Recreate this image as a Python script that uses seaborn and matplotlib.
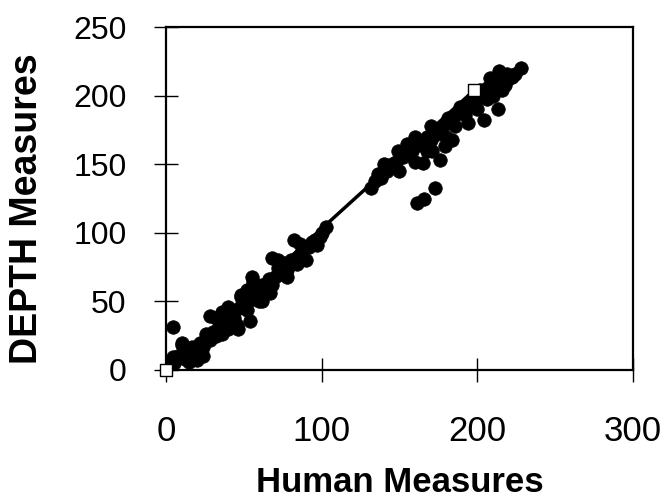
import numpy as np
import pandas as pd
import matplotlib
matplotlib.use("Agg")
import matplotlib.pyplot as plt
import seaborn as sns

# Human vs DEPTH measures
human = [4.5, 10, 28, 36, 48, 20, 28, 45.6, 54, 17, 4.5, 1,
         55, 68, 82, 103, 78, 84, 97, 99, 60, 67, 52, 48,
         5, 8, 12, 14, 18, 22, 24, 26, 30, 32, 35, 38, 40, 42, 44, 47,
         50, 52, 56, 58, 60, 62, 64, 66, 70, 72, 74, 76, 80, 86, 88, 92, 94, 100,
         10, 15, 24, 32, 36, 40, 46, 56, 62, 68, 72, 78, 86, 90, 96,
         160, 149, 141, 136, 132, 165, 176, 184, 173, 166, 161, 171, 179,
         228, 219, 208, 204, 216, 213, 204, 194, 189, 183, 176, 197, 200,
         134, 138, 142, 145, 148, 152, 155, 158, 162, 165, 168, 170, 174, 178,
         181, 186, 190, 194, 198, 202, 206, 210, 212, 215, 220, 222, 224,
         140, 150, 155, 160, 168, 170, 180, 186, 192, 200, 206, 210, 214, 218]
depth = [31, 20, 39, 42, 53, 7, 22, 33, 36, 17, 9.5, 4,
         68, 82, 95, 104, 73, 77, 91, 97, 50, 56, 58, 55,
         5, 10, 8, 14, 12, 20, 17, 26, 28, 25, 33, 36, 30, 40, 38, 45,
         48, 44, 52, 60, 57, 62, 60, 66, 68, 74, 70, 78, 80, 84, 88, 90, 93, 100,
         18, 6, 10, 38, 26, 46, 30, 64, 50, 62, 80, 68, 92, 80, 95,
         170, 160, 148, 143, 133, 151, 153, 168, 133, 125, 122, 160, 163,
         220, 216, 213, 200, 204, 190, 182, 180, 192, 181, 176, 193, 198,
         138, 140, 145, 150, 152, 155, 158, 160, 164, 166, 170, 168, 172, 178,
         184, 186, 190, 195, 200, 204, 206, 208, 212, 210, 212, 214, 216,
         150, 145, 165, 152, 160, 178, 170, 178, 186, 190, 198, 200, 218, 208]

# identity / reference series (open squares joined by a line)
ref_x = [0, 198]
ref_y = [0, 204]

df = pd.DataFrame({"Human": human, "DEPTH": depth})

sns.set_style("white")
plt.rcParams["font.family"] = ["Liberation Sans", "DejaVu Sans"]
plt.rcParams["text.color"] = "black"
plt.rcParams["axes.labelcolor"] = "black"
plt.rcParams["xtick.color"] = "black"
plt.rcParams["ytick.color"] = "black"

fig = plt.figure(figsize=(6.68, 5.04), dpi=100)
ax = fig.add_axes([0.2485, 0.266, 0.699, 0.68])

sns.scatterplot(data=df, x="Human", y="DEPTH", color="black", s=95,
                edgecolor="black", linewidth=0.5, ax=ax, zorder=2)
sns.lineplot(x=ref_x, y=ref_y, color="black", linewidth=2.5, ax=ax, zorder=3)
ax.scatter(ref_x, ref_y, marker="s", s=70, facecolor="white",
           edgecolor="black", linewidth=1.0, zorder=4, clip_on=False)

ax.set_xlim(0, 300)
ax.set_ylim(0, 250)
ax.set_xticks([0, 100, 200, 300])
ax.set_yticks([0, 50, 100, 150, 200, 250])

for sp in ax.spines.values():
    sp.set_visible(True)
    sp.set_color("black")
    sp.set_linewidth(1.6)

ax.tick_params(axis="both", direction="inout", length=17, width=1.0,
               color="black", labelcolor="black", bottom=True, left=True)
ax.tick_params(axis="x", labelsize=25, pad=24)
ax.tick_params(axis="y", labelsize=23, pad=20)

ax.set_xlabel("Human Measures", fontsize=25, fontweight="bold")
ax.set_ylabel("DEPTH Measures", fontsize=27, fontweight="bold")
ax.xaxis.set_label_coords(0.5, -0.28)
ax.yaxis.set_label_coords(-0.26, 0.47)

fig.savefig("out.png", dpi=100)
